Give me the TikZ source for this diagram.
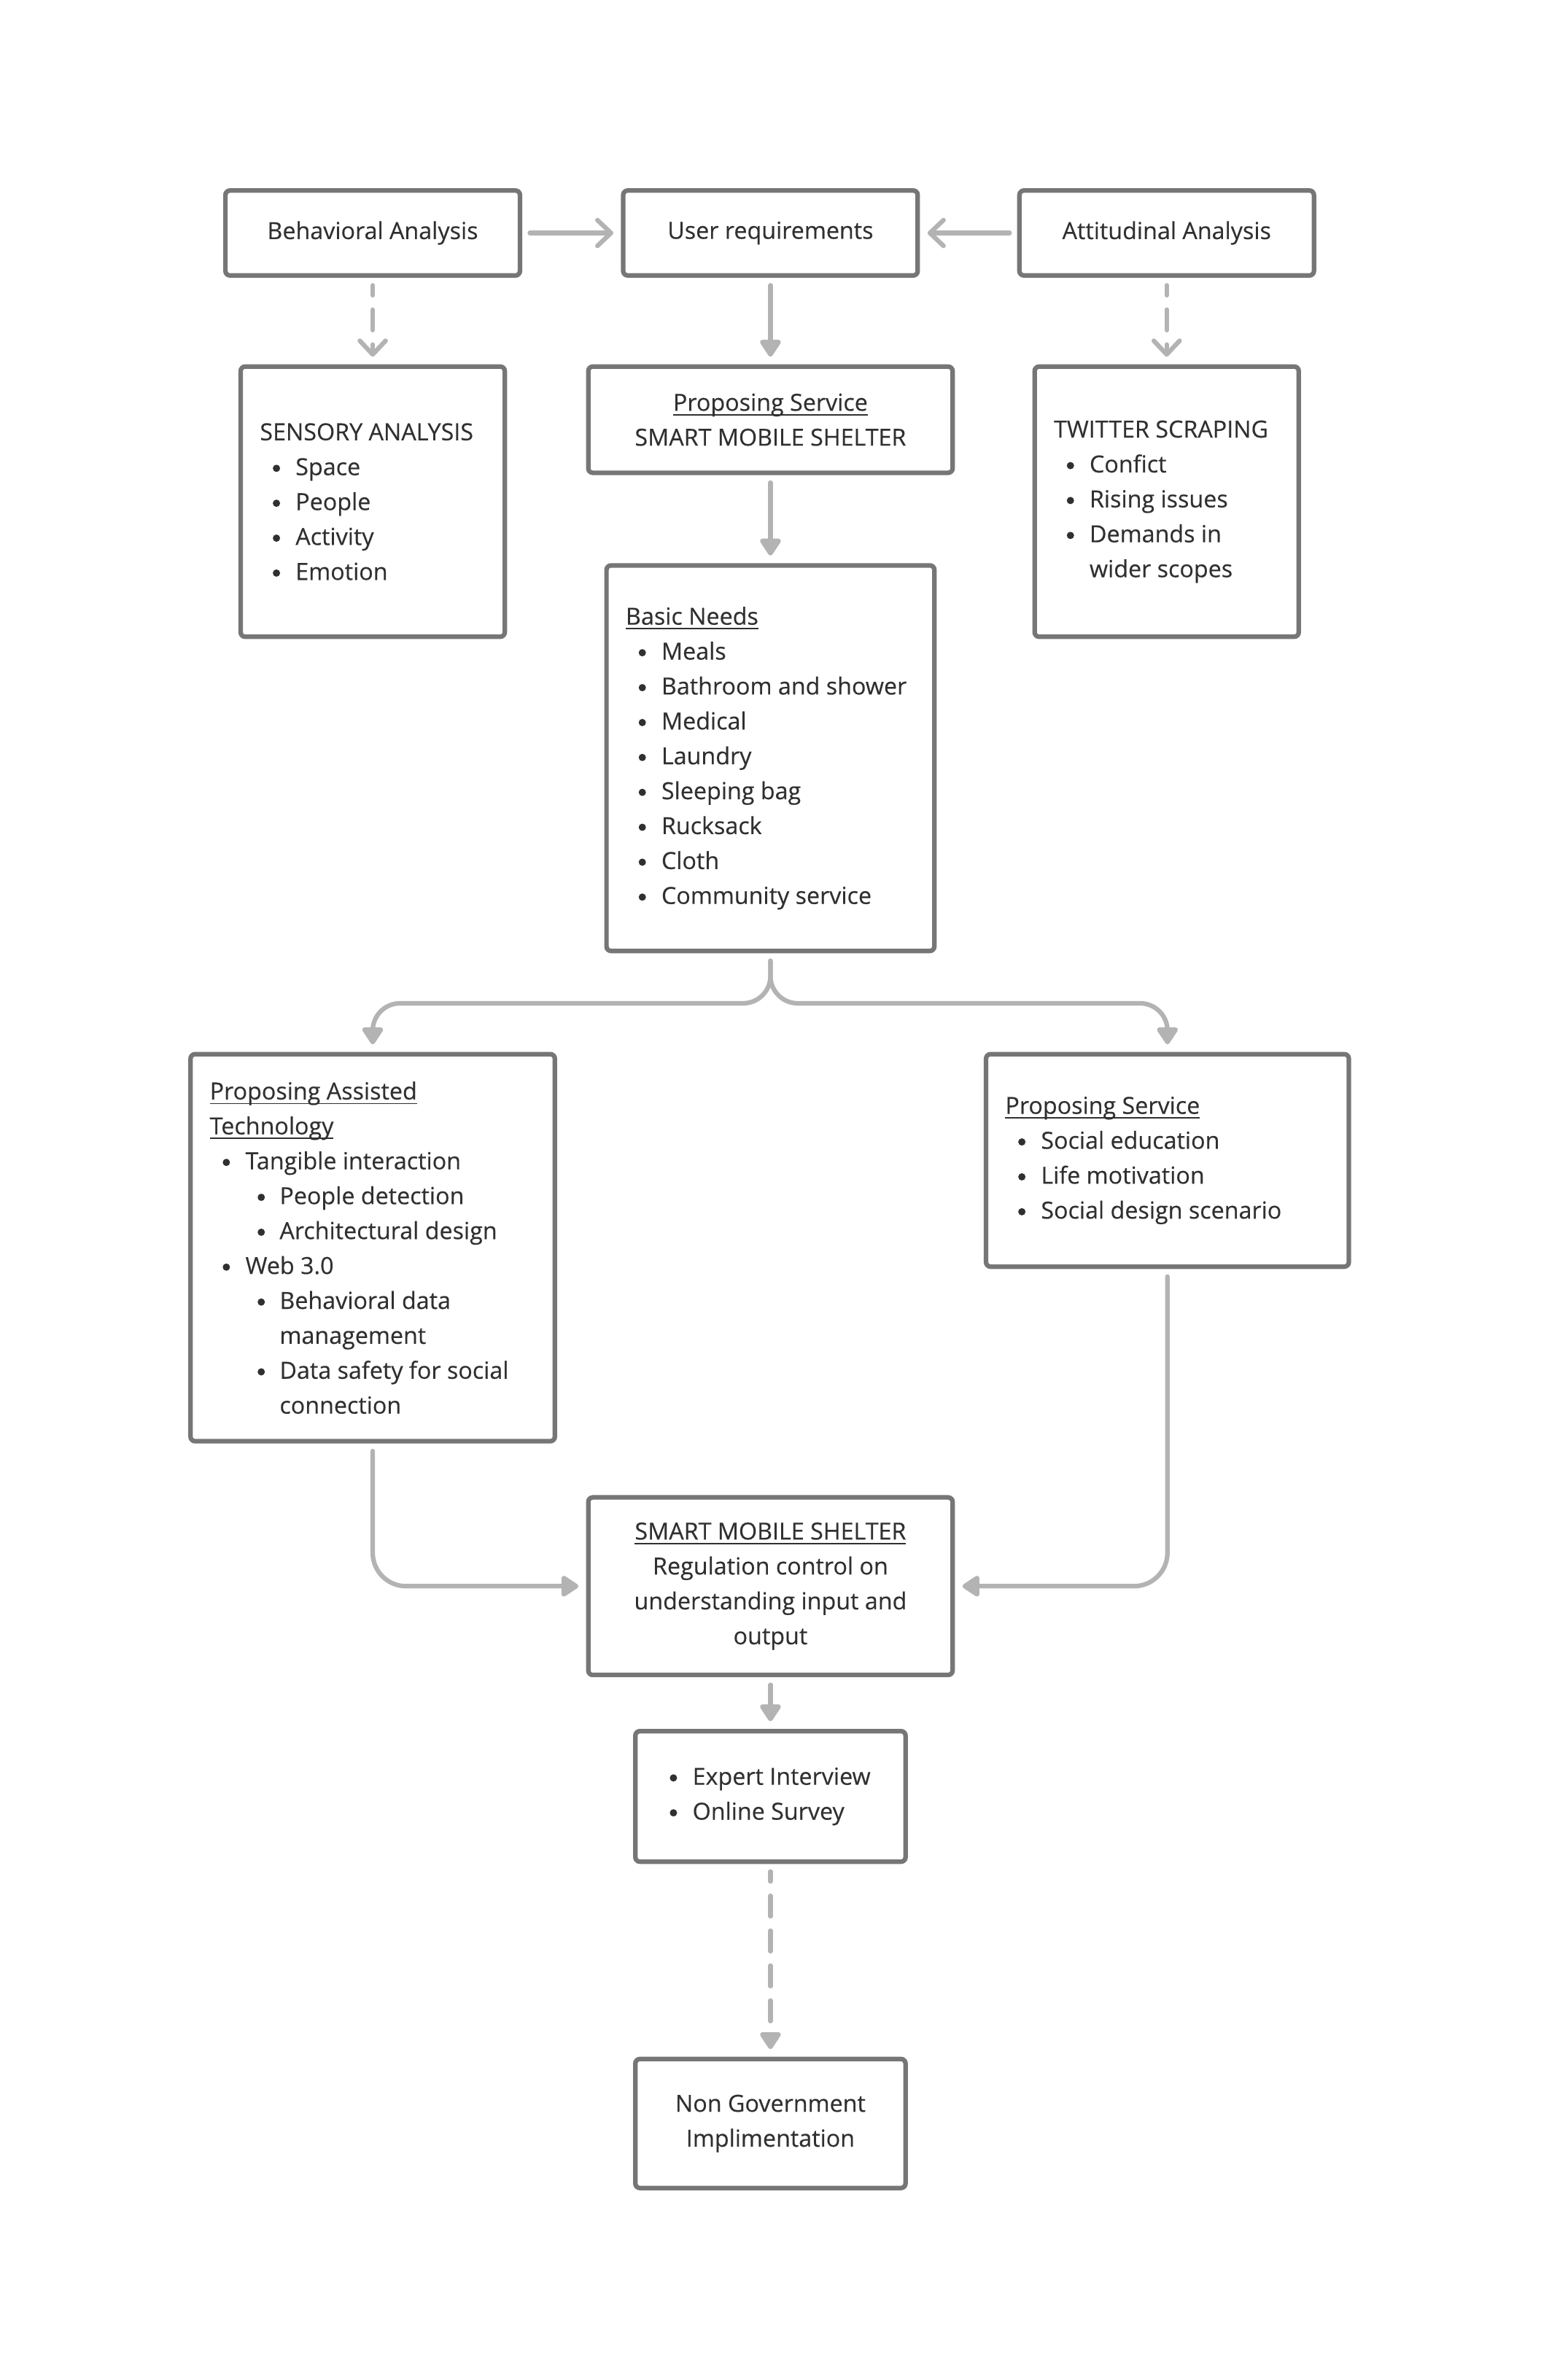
\documentclass[tikz,border=0pt]{standalone}
\usepackage{fontspec}
\setmainfont{Open Sans}[FakeBold=0.3]
\usetikzlibrary{arrows.meta,calc}
\definecolor{txt}{HTML}{303030}
\definecolor{bord}{HTML}{767676}
\definecolor{arr}{HTML}{B3B3B3}
\newcommand\ulx[1]{\setbox0=\hbox{#1}\rlap{\rule[-3.2pt]{\wd0}{0.9pt}}\box0}
\newcommand\dotb{\tikz[baseline=0pt]\fill[txt] (0pt,4.5pt) circle[radius=2.4pt];}
\newcommand\bi[1]{\makebox[23.5pt][l]{\hspace{8.5pt}\dotb}#1}
\newcommand\bii[1]{\hspace*{23pt}\makebox[23pt][l]{\hspace{8.5pt}\dotb}#1}
\begin{document}
\begin{tikzpicture}[x=1pt,y=-1pt,
  box/.style={draw=bord, line width=3pt, rounded corners=3pt, fill=white, text=txt,
    inner xsep=12.5pt, inner ysep=0pt, font=\fontsize{15.5}{23}\selectfont},
  txtn/.style={text=txt, inner sep=0pt, align=left, anchor=west, font=\fontsize{15.5}{23}\selectfont},
  conn/.style={draw=arr, line width=3pt, line cap=round, shorten <=5pt, shorten >=5pt},
  fa/.style={conn, -{Triangle[length=12.5pt,width=15.5pt,round]}},
  oa/.style={conn, -{Straight Barb[length=9pt,width=17pt,round]}},
  dsh/.style={dash pattern=on 13.5pt off 9.5pt, dash phase=7pt}
]
\fill[white] (0,0) rectangle (1014.6,1568);
\useasboundingbox (0,0) rectangle (1014.6,1568);

% boxes
\node[box, minimum width=194pt, minimum height=56pt] (ba) at (245.5,153.5) {Behavioral Analysis};
\node[box, minimum width=194pt, minimum height=56pt] (ur) at (507.5,153.5) {User requirements};
\node[box, minimum width=194pt, minimum height=56pt] (aa) at (768.5,153.5) {Attitudinal Analysis};

\node[box, minimum width=174pt, minimum height=178pt] (sa) at (245.5,330.5) {};
\node[box, minimum width=240pt, minimum height=70pt, align=center] (ps) at (507.5,276.5)
  {\ulx{Proposing Service}\\ SMART MOBILE SHELTER};
\node[box, minimum width=174pt, minimum height=178pt] (tw) at (768.5,330.5) {};

\node[box, minimum width=216pt, minimum height=254pt] (bn) at (507.5,499.5) {};

\node[box, minimum width=240pt, minimum height=255pt] (pat) at (245.5,822) {};
\node[box, minimum width=239pt, minimum height=140pt] (rps) at (769,764.5) {};

\node[box, minimum width=240pt, minimum height=117pt, align=center] (sms) at (507.5,1045)
  {\ulx{SMART MOBILE SHELTER}\\ Regulation control on\\ understanding input and\\ output};
\node[box, minimum width=178pt, minimum height=86pt] (ex) at (507.5,1183.5) {};
\node[box, minimum width=178pt, minimum height=85pt, align=center] (ng) at (507.5,1399)
  {Non Government\\ Implimentation};

% left-aligned texts
\node[txtn] (sa-t) at ($(sa.west)+(14,0)$)
  {SENSORY ANALYSIS\\ \bi{Space}\\ \bi{People}\\ \bi{Activity}\\ \bi{Emotion}};
\node[txtn] (tw-t) at ($(tw.west)+(14,0)$)
  {TWITTER SCRAPING\\ \bi{Confict}\\ \bi{Rising issues}\\ \bi{Demands in}\\ \hspace*{23.5pt}wider scopes};
\node[txtn] (bn-t) at ($(bn.west)+(14,0)$)
  {\ulx{Basic Needs}\\ \bi{Meals}\\ \bi{Bathroom and shower}\\ \bi{Medical}\\ \bi{Laundry}\\
   \bi{Sleeping bag}\\ \bi{Rucksack}\\ \bi{Cloth}\\ \bi{Community service}};
\node[txtn] (pat-t) at ($(pat.west)+(14,0)$)
  {\ulx{Proposing Assisted}\\ \ulx{Technology}\\ \bi{Tangible interaction}\\ \bii{People detection}\\
   \bii{Architectural design}\\ \bi{Web 3.0}\\ \bii{Behavioral data}\\ \hspace*{46pt}management\\
   \bii{Data safety for social}\\ \hspace*{46pt}connection};
\node[txtn] (rps-t) at ($(rps.west)+(14,0)$)
  {\ulx{Proposing Service}\\ \bi{Social education}\\ \bi{Life motivation}\\ \bi{Social design scenario}};
\node[txtn] (ex-t) at ($(ex.west)+(15.5,0)$)
  {\bi{Expert Interview}\\ \bi{Online Survey}};

% connectors
\draw[oa] (ba) -- (ur);
\draw[oa] (aa) -- (ur);
\draw[oa,dsh] (ba) -- (sa);
\draw[fa] (ur) -- (ps);
\draw[oa,dsh] (aa) -- (tw);
\draw[fa] (ps) -- (bn);
\draw[fa, rounded corners=18pt] (bn.south) |- ($(pat.north)+(0,-32)$) -- (pat.north);
\draw[fa, rounded corners=18pt] (bn.south) |- ($(rps.north)+(0,-32)$) -- (rps.north);
\draw[fa, rounded corners=22pt] (pat.south) |- (sms.west);
\draw[fa, rounded corners=22pt] (rps.south) |- (sms.east);
\draw[fa] (sms) -- (ex);
\draw[fa,dsh] (ex) -- (ng);
\end{tikzpicture}
\end{document}
